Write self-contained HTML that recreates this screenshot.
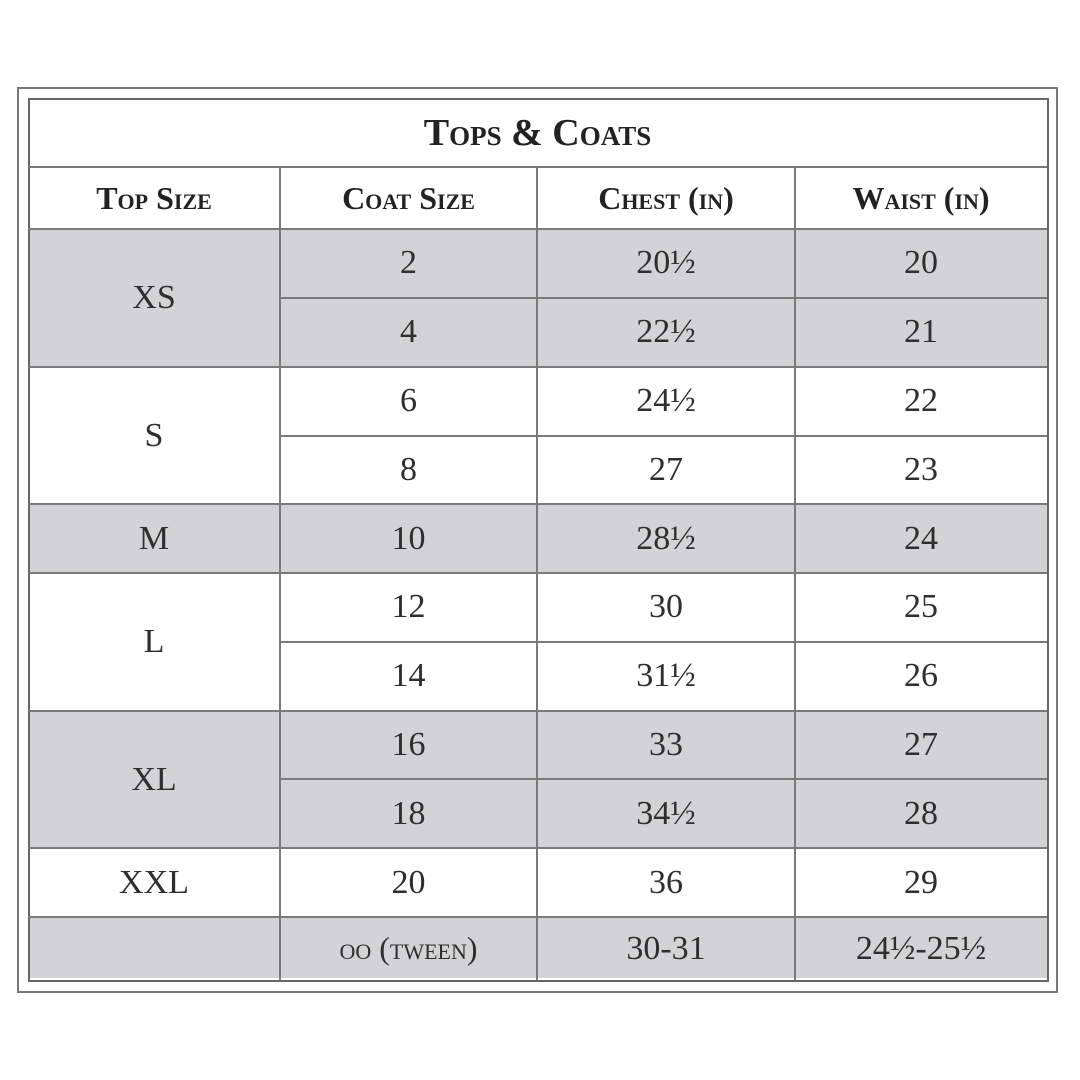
<!DOCTYPE html>
<html><head><style>
body{margin:0;width:1080px;height:1080px;background:#fff;position:relative;font-family:"Liberation Serif",serif;color:#2e2e2e;overflow:hidden}
.o{position:absolute;left:17px;top:87px;width:1037px;height:902px;border:2px solid #777}
.c{position:absolute;display:flex;align-items:center;justify-content:center;box-sizing:border-box;font-size:34px}
.g{background:#d3d3d5}
.h{font-weight:bold;font-variant:small-caps;font-size:32px;color:#222}
.l{position:absolute;background:#7a7a7a}
</style></head><body>
<div class="o"></div>
<div style="position:absolute;left:28px;top:98px;width:1017px;height:880px;border:2px solid #666"></div>
<div class="c h" style="left:28px;top:98px;width:1019px;height:69px;font-size:38px">Tops &amp; Coats</div>
<div class="c h" style="left:28px;top:167px;width:252px;height:62px">Top Size</div>
<div class="c h" style="left:280px;top:167px;width:257px;height:62px">Coat Size</div>
<div class="c h" style="left:537px;top:167px;width:258px;height:62px">Chest (in)</div>
<div class="c h" style="left:795px;top:167px;width:252px;height:62px">Waist (in)</div>
<!-- gray bands -->
<div class="c g" style="left:30px;top:230px;width:1017px;height:137px"></div>
<div class="c g" style="left:30px;top:505px;width:1017px;height:68px"></div>
<div class="c g" style="left:30px;top:712px;width:1017px;height:136px"></div>
<div class="c g" style="left:30px;top:918px;width:1017px;height:60px"></div>
<!-- first col -->
<div class="c" style="left:28px;top:229px;width:252px;height:138px">XS</div>
<div class="c" style="left:28px;top:367px;width:252px;height:137px">S</div>
<div class="c" style="left:28px;top:504px;width:252px;height:69px">M</div>
<div class="c" style="left:28px;top:573px;width:252px;height:138px">L</div>
<div class="c" style="left:28px;top:711px;width:252px;height:137px">XL</div>
<div class="c" style="left:28px;top:848px;width:252px;height:69px">XXL</div>
<!-- rows -->
<div style="position:absolute;left:280px;top:229px;width:767px">
<div style="display:grid;grid-template-columns:257px 258px 252px;grid-auto-rows:68.8px;font-size:34px;text-align:center;align-items:center">
<div>2</div><div>20½</div><div>20</div>
<div>4</div><div>22½</div><div>21</div>
<div>6</div><div>24½</div><div>22</div>
<div>8</div><div>27</div><div>23</div>
<div>10</div><div>28½</div><div>24</div>
<div>12</div><div>30</div><div>25</div>
<div>14</div><div>31½</div><div>26</div>
<div>16</div><div>33</div><div>27</div>
<div>18</div><div>34½</div><div>28</div>
<div>20</div><div>36</div><div>29</div>
</div></div>
<div class="c" style="left:280px;top:917px;width:257px;height:63px;font-variant:small-caps;font-size:32px">oo (tween)</div>
<div class="c" style="left:537px;top:917px;width:258px;height:63px">30-31</div>
<div class="c" style="left:795px;top:917px;width:252px;height:63px">24½-25½</div>
<!-- horizontal lines -->
<div class="l" style="left:28px;top:166px;width:1019px;height:2px"></div>
<div class="l" style="left:28px;top:228px;width:1019px;height:2px"></div>
<div class="l" style="left:280px;top:297px;width:767px;height:2px"></div>
<div class="l" style="left:28px;top:366px;width:1019px;height:2px"></div>
<div class="l" style="left:280px;top:435px;width:767px;height:2px"></div>
<div class="l" style="left:28px;top:503px;width:1019px;height:2px"></div>
<div class="l" style="left:28px;top:572px;width:1019px;height:2px"></div>
<div class="l" style="left:280px;top:641px;width:767px;height:2px"></div>
<div class="l" style="left:28px;top:710px;width:1019px;height:2px"></div>
<div class="l" style="left:280px;top:778px;width:767px;height:2px"></div>
<div class="l" style="left:28px;top:847px;width:1019px;height:2px"></div>
<div class="l" style="left:28px;top:916px;width:1019px;height:2px"></div>
<!-- vertical lines -->
<div class="l" style="left:279px;top:167px;width:2px;height:813px"></div>
<div class="l" style="left:536px;top:167px;width:2px;height:813px"></div>
<div class="l" style="left:794px;top:167px;width:2px;height:813px"></div>
</body></html>
